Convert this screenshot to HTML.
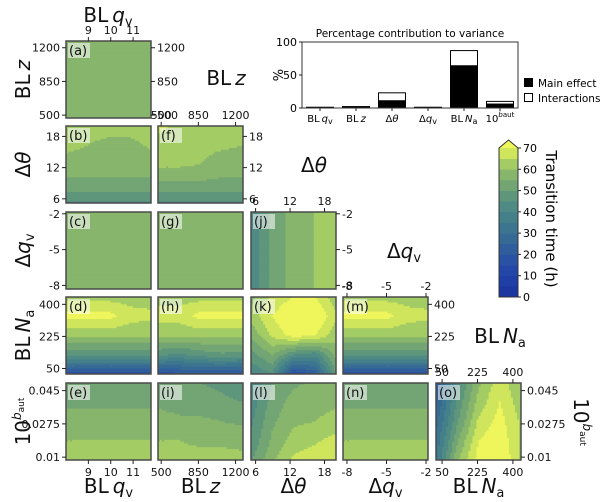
<!DOCTYPE html>
<html><head><meta charset="utf-8"><style>
html,body{margin:0;padding:0;background:#fff;}
svg{display:block;font-family:"DejaVu Sans","Liberation Sans",sans-serif;}
</style></head><body>
<svg id="fig" width="600" height="502" viewBox="0 0 600 502" xmlns="http://www.w3.org/2000/svg">
<g id="panels"></g>
<g id="labels"></g>
<g id="bar"></g>
<g id="cbar"></g>
</svg>
<script>
// ---------- data ----------
const barCategories = ["qv","z","dth","dqv","Na","baut"];
const mainEffect = [1, 2, 11, 1, 64, 6];
const totalEffect = [1, 2, 23, 1, 87, 10];
const barTicks = [0, 50, 100];
const cbarLevels = [0,5,10,15,20,25,30,35,40,45,50,55,60,65,70];
const cbarTickLabels = [0,10,20,30,40,50,60,70];
// grids: rows bottom->top, columns left->right (hours)
const gridA = [[57,57,57,57,57],[57,57,57,57,57],[57,57,57,57,57],[57,57,57,57,57],[57,57,57,57,57]];
const gridB = [[44,44,44,44,44],[54,54,54,54,54],[57,57,57,57,57],[62,60,58,58,61],[63,63,63,63,63]];
const gridC = [[57,57,57,57,57],[57,57,57,57,57],[57,57,57,57,57],[57,57,57,57,57],[57,57,57,57,57]];
const gridD = [[18,18,18,18,18],[46,46,46,46,46],[61,61,61,61,61],[72,72,72,67,66],[63,63,63,63,63]];
const gridE = [[62,62,62,62,62],[60,60,60,60,60],[57,57,57,57,57],[54,54,54,54,54],[52,52,52,52,52]];
const gridF = [[44,44,44,44,44],[54,54,54,54,54],[61,61,60,57,57],[62,62,62,61,60],[67,63,63,63,63]];
const gridG = [[57,57,57,57,57],[57,57,57,57,57],[57,57,57,57,57],[57,57,57,57,57],[57,57,57,57,57]];
const gridH = [[18,19,21,20,19],[46,44,47,49,48],[61,61,61,61,61],[67,67,72,72,72],[63,63,63,63,63]];
const gridI = [[62,62,62,62,62],[60,60,59,59,58],[57,56,56,55,54],[54,53,52,51,50],[52,51,50,49,47]];
const gridJ = [[40,52,57,60,61],[40,52,57,60,61],[40,52,57,60,61],[40,52,57,60,61],[40,52,57,60,61]];
const gridK = [[40,45,15,22,50],[48,55,45,42,57],[56,66,72,70,62],[62,70,76,76,66],[58,66,70,70,62]];
const gridL = [[49,59,66,69,70],[46,56,62,64,67],[44,54,59,60,62],[42,52,57,58,59],[40,50,54,56,57]];
const gridM = [[18,18,18,18,18],[46,46,46,46,46],[61,61,61,61,61],[72,72,72,67,66],[63,63,63,63,63]];
const gridN = [[62,62,62,62,62],[60,60,60,60,60],[57,57,57,57,57],[54,54,54,54,54],[52,52,52,52,52]];
const gridO = [[34,59,72,76,64],[31,54,70,74,64],[28,49,66,72,64],[24,46,62,70,62],[20,42,59,68,60]];

const colors=["#1c37a0","#1f3ea6","#2347a8","#2a52a4","#305e9c","#366a94","#3c7590","#44808a","#4f8a84","#5e967c","#73a574","#87b56c","#a3cc64","#cfe55c","#eef65c"];
function colorFor(v){let i=Math.floor(v/5);if(i<0)i=0;if(i>14)i=14;return colors[i];}
const NS="http://www.w3.org/2000/svg";
function mk(tag,attrs,parent){const e=document.createElementNS(NS,tag);for(const k in attrs)e.setAttribute(k,attrs[k]);parent.appendChild(e);return e;}

const colX=[66,158,251,343,436], colW=85;
const rowY=[41,126,212,297,383], rowH=77;
const panels=[
 {id:"a",c:0,r:0,g:gridA},{id:"b",c:0,r:1,g:gridB},{id:"c",c:0,r:2,g:gridC},{id:"d",c:0,r:3,g:gridD},{id:"e",c:0,r:4,g:gridE},
 {id:"f",c:1,r:1,g:gridF},{id:"g",c:1,r:2,g:gridG},{id:"h",c:1,r:3,g:gridH},{id:"i",c:1,r:4,g:gridI},
 {id:"j",c:2,r:2,g:gridJ},{id:"k",c:2,r:3,g:gridK},{id:"l",c:2,r:4,g:gridL},
 {id:"m",c:3,r:3,g:gridM},{id:"n",c:3,r:4,g:gridN},{id:"o",c:4,r:4,g:gridO}];
const P=document.getElementById("panels");
function interp(g,fx,fy){const n=g.length-1,m=g[0].length-1;const x=fx*m,y=fy*n;let i=Math.min(Math.floor(y),n-1),j=Math.min(Math.floor(x),m-1);const ty=y-i,tx=x-j;
 return g[i][j]*(1-tx)*(1-ty)+g[i][j+1]*tx*(1-ty)+g[i+1][j]*(1-tx)*ty+g[i+1][j+1]*tx*ty;}
panels.forEach(p=>{
 const x0=colX[p.c],y0=rowY[p.r];
 const grp=mk("g",{},P);
 
 
 const N=42,cw=colW/N,ch=rowH/N;
 for(let yi=0;yi<N;yi++){
  let start=0,prev=null;
  for(let xi=0;xi<=N;xi++){
   const col= xi<N? colorFor(interp(p.g,(xi+0.5)/N,1-(yi+0.5)/N)):null;
   if(col!==prev){ if(prev!==null){const r=mk("rect",{x:x0+start*cw,y:y0+yi*ch,width:(xi-start)*cw+0.4,height:ch+0.4,fill:prev},grp);
     
     }
    start=xi;prev=col;}
  }
 }
 const b=mk("rect",{x:x0,y:y0,width:colW,height:rowH,fill:"none",stroke:"#4a4a4a","stroke-width":1.5},grp);
 
 
 const bg=mk("rect",{x:x0+2,y:y0+2,width:22,height:15,fill:"#fff","fill-opacity":0.55},grp);
 
 
 const t=mk("text",{x:x0+3,y:y0+14,"font-size":13,fill:"#111"},grp);t.textContent="("+p.id+")";
 
 
});

// ---------- ticks ----------
const L=document.getElementById("labels");
function txt(x,y,s,opts){const t=mk("text",Object.assign({x:x,y:y,"font-size":11,fill:"#111"},opts||{}),L);t.textContent=s;return t;}
function tick(x1,y1,x2,y2){mk("line",{x1:x1,y1:y1,x2:x2,y2:y2,stroke:"#222","stroke-width":1},L);}
const axes=[
 {dom:[8,11.8],ticks:[9,10,11],lab:["9","10","11"]},
 {dom:[470,1270],ticks:[500,850,1200],lab:["500","850","1200"]},
 {dom:[5.2,20],ticks:[6,12,18],lab:["6","12","18"]},
 {dom:[-8.3,-1.85],ticks:[-8,-5,-2],lab:["-8","-5","-2"]},
 {dom:[20,440],ticks:[50,225,400],lab:["50","225","400"]},
 {dom:[0.0085,0.049],ticks:[0.01,0.0275,0.045],lab:["0.01","0.0275","0.045"]}];
function xpos(c,v){const a=axes[c];return colX[c]+(v-a.dom[0])/(a.dom[1]-a.dom[0])*colW;}
function ypos(r,v){const a=axes[r+1];return rowY[r]+rowH-(v-a.dom[0])/(a.dom[1]-a.dom[0])*rowH;}
for(let r=0;r<5;r++){axes[r+1].ticks.forEach((v,i)=>{const y=ypos(r,v);tick(colX[0],y,colX[0]-4,y);txt(colX[0]-6,y+4,axes[r+1].lab[i],{"text-anchor":"end"});
 const xr=colX[r]+colW;tick(xr,y,xr+4,y);txt(xr+6,y+4,axes[r+1].lab[i]);});}
for(let c=0;c<5;c++){axes[c].ticks.forEach((v,i)=>{const x=xpos(c,v);const yb=rowY[4]+rowH;tick(x,yb,x,yb+4);txt(x,yb+16,axes[c].lab[i],{"text-anchor":"middle"});
 const yt=rowY[c];tick(x,yt,x,yt-4);txt(x,yt-7,axes[c].lab[i],{"text-anchor":"middle"});});}

// ---------- big labels ----------
function bigLabel(x,y,parts,rot,name){const t=mk("text",{x:x,y:y,"font-size":20,fill:"#111","text-anchor":"middle"},L);
 if(rot)t.setAttribute("transform","rotate("+rot+" "+x+" "+y+")");
 
 
 parts.forEach(p=>{const s=mk("tspan",{},t);s.textContent=p[0];if(p[1]==="i")s.setAttribute("font-style","italic");if(p[1]==="sub"){s.setAttribute("font-size",13);s.setAttribute("dy",4);}});return t;}
const qvP=[["BL\u2009"],["q","i"],["v","sub"]], zP=[["BL\u2009"],["z","i"]], thP=[["\u0394"],["\u03b8","i"]], dqP=[["\u0394"],["q","i"],["v","sub"]], naP=[["BL\u2009"],["N","i"],["a","sub"]];
const rowParts=[zP,thP,dqP,naP];
rowParts.forEach((p,i)=>bigLabel(30,rowY[i]+rowH/2,p,-90,"row-label-"+i));
{const t=bigLabel(30,rowY[4]+rowH/2,[["10"]],-90,"row-label-baut");const s=mk("tspan",{"font-size":12,dy:-9},t);s.innerHTML='<tspan font-style="italic">b</tspan><tspan font-size="9" dy="3">aut</tspan>';}
[qvP,zP,thP,dqP,naP].forEach((p,i)=>bigLabel(colX[i]+colW/2,493,p,0,"col-label-"+i));
bigLabel(108,22,qvP,0,"top-label-qv");
bigLabel(226,85,zP,0,"diag-label-z");
bigLabel(314,172,thP,0,"diag-label-theta");
bigLabel(404,258,dqP,0,"diag-label-dqv");
bigLabel(500,343,naP,0,"diag-label-na");
{const t=bigLabel(574,422,[["10"]],90,"diag-label-baut");const s=mk("tspan",{"font-size":12,dy:-9},t);s.innerHTML='<tspan font-style="italic">b</tspan><tspan font-size="9" dy="3">aut</tspan>';}

// ---------- bar chart ----------
const B=document.getElementById("bar");
const bx0=302,bx1=518,by0=108,by1=42;
function by(v){return by0-(v/100)*(by0-by1);}
const bw=(bx1-bx0)/barCategories.length;
barCategories.forEach((c,i)=>{const cx=bx0+bw*(i+0.5);const w=27;
 const tot=mk("rect",{x:cx-w/2,y:by(totalEffect[i]),width:w,height:by0-by(totalEffect[i]),fill:"#fff",stroke:"#000","stroke-width":1},B);
 
 
 const me=mk("rect",{x:cx-w/2,y:by(mainEffect[i]),width:w,height:by0-by(mainEffect[i]),fill:"#000",stroke:"#000","stroke-width":1},B);
 
 
 mk("line",{x1:cx,y1:by0,x2:cx,y2:by0+3,stroke:"#222"},B);
});
const frame=mk("rect",{x:bx0,y:by1,width:bx1-bx0,height:by0-by1,fill:"none",stroke:"#333","stroke-width":1},B);


barTicks.forEach(v=>{mk("line",{x1:bx0,y1:by(v),x2:bx0-3,y2:by(v),stroke:"#222"},B);const t=mk("text",{x:bx0-5,y:by(v)+4,"font-size":11,"text-anchor":"end"},B);t.textContent=v;});
const barLabels=['BL\u2009<tspan font-style="italic">q</tspan><tspan font-size="8" dy="2">v</tspan>','BL\u2009<tspan font-style="italic">z</tspan>','\u0394<tspan font-style="italic">\u03b8</tspan>','\u0394<tspan font-style="italic">q</tspan><tspan font-size="8" dy="2">v</tspan>','BL\u2009<tspan font-style="italic">N</tspan><tspan font-size="8" dy="2">a</tspan>','10<tspan font-size="7" dy="-5"><tspan font-style="italic">b</tspan>aut</tspan>'];
barLabels.forEach((s,i)=>{const t=mk("text",{x:bx0+bw*(i+0.5),y:122,"font-size":10,"text-anchor":"middle"},B);t.innerHTML=s;
 
 });
{const t=mk("text",{x:410,y:37,"font-size":10.5,"text-anchor":"middle"},B);t.textContent="Percentage contribution to variance";
 }
{const t=mk("text",{x:283,y:75,"font-size":13,"text-anchor":"middle",transform:"rotate(-90 283 75)"},B);t.textContent="%";
 }
{const g=mk("g",{},B);
 mk("rect",{x:524,y:78,width:9,height:9,fill:"#000"},g);
 mk("rect",{x:524.5,y:93.5,width:8,height:8,fill:"#fff",stroke:"#000"},g);
 const t1=mk("text",{x:538,y:87,"font-size":10.5},g);t1.textContent="Main effect";
 const t2=mk("text",{x:538,y:102,"font-size":10.5},g);t2.textContent="Interactions";}

// ---------- colorbar ----------
const C=document.getElementById("cbar");
const cx0=499,cwid=19,cTop=148,cBot=297;
function cy(v){return cBot-(v/70)*(cBot-cTop);}
for(let i=0;i<cbarLevels.length-1;i++){const r=mk("rect",{x:cx0,y:cy(cbarLevels[i+1]),width:cwid,height:cy(cbarLevels[i])-cy(cbarLevels[i+1])+0.3,fill:colors[i]},C);
 
 }
{const a=mk("polygon",{points:`${cx0},${cTop} ${cx0+cwid/2},140 ${cx0+cwid},${cTop}`,fill:colors[14]},C);}
mk("polygon",{points:`${cx0},${cBot} ${cx0},${cTop} ${cx0+cwid/2},140 ${cx0+cwid},${cTop} ${cx0+cwid},${cBot}`,fill:"none",stroke:"#333","stroke-width":1},C);
cbarTickLabels.forEach(v=>{mk("line",{x1:cx0+cwid,y1:cy(v),x2:cx0+cwid+3,y2:cy(v),stroke:"#222"},C);const t=mk("text",{x:cx0+cwid+5,y:cy(v)+4,"font-size":11},C);t.textContent=v;});
{const t=mk("text",{x:546,y:219,"font-size":15,"text-anchor":"middle",transform:"rotate(90 546 219)"},C);t.textContent="Transition time (h)";
 }
</script>
</body></html>
